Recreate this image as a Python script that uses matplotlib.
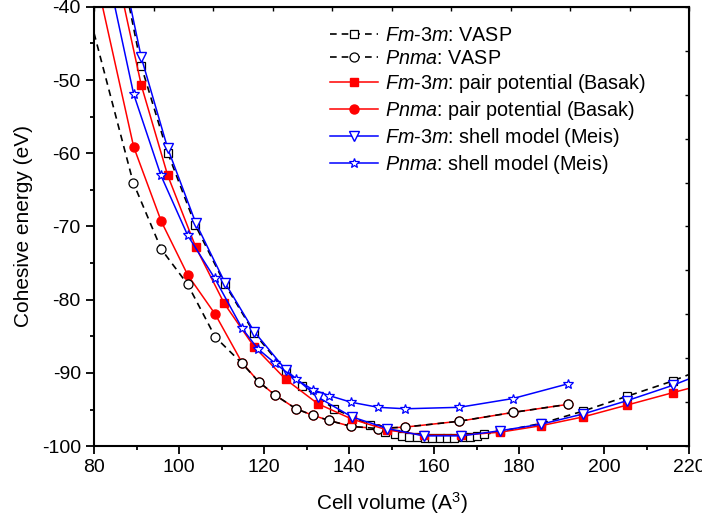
import matplotlib
matplotlib.use('Agg')
from matplotlib import pyplot as plt
from matplotlib import font_manager

plt.rcParams['font.family'] = ['Liberation Sans', 'DejaVu Sans']
plt.rcParams['mathtext.fontset'] = 'custom'
plt.rcParams['mathtext.rm'] = 'Liberation Sans'
plt.rcParams['mathtext.it'] = 'Liberation Sans:italic'
plt.rcParams['axes.unicode_minus'] = False

# first/last entries are where each curve leaves the frame (no marker there)
fm_vasp_v = [88.3, 91.1, 97.3, 103.8, 110.8, 117.7, 125.1, 128.9, 136.5, 144.8,
             148.5, 150.8, 152.4, 154.0, 155.9, 157.9, 159.5, 161.3, 163.0, 164.6,
             166.7, 168.3, 170.0, 171.8, 175.5, 185.2, 195.1, 205.3, 216.1, 220.0]
fm_vasp_e = [-40.0, -48.1, -59.9, -69.8, -77.9, -84.6, -89.8, -91.8, -94.9, -97.1,
             -98.1, -98.4, -98.6, -98.7, -98.8, -98.9, -98.9, -98.9, -98.9, -98.9,
             -98.8, -98.7, -98.6, -98.4, -98.0, -96.9, -95.2, -93.2, -91.1, -90.2]

pn_vasp_v = [80.0, 89.2, 95.8, 102.0, 108.5, 114.8, 118.7, 122.5, 127.5, 131.5,
             135.3, 140.4, 146.7, 153.2, 165.9, 178.5, 191.4]
pn_vasp_e = [-43.6, -64.0, -73.1, -77.9, -85.1, -88.7, -91.2, -93.0, -94.9, -95.8,
             -96.5, -97.3, -97.6, -97.4, -96.6, -95.4, -94.3]

fm_pair_v = [87.1, 91.1, 97.3, 103.9, 110.6, 117.6, 125.1, 132.6, 140.6, 149.0,
             157.5, 166.4, 175.5, 185.2, 195.1, 205.3, 216.1, 220.0]
fm_pair_e = [-40.0, -50.7, -63.0, -72.8, -80.5, -86.4, -90.9, -94.2, -96.3, -97.8,
             -98.5, -98.5, -98.1, -97.2, -96.0, -94.4, -92.7, -92.1]

pn_pair_v = [82.0, 89.3, 95.8, 102.0, 108.5, 114.8, 118.7, 122.5, 127.5, 131.5,
             135.3, 140.4, 146.7, 153.2, 165.9, 178.5, 191.4]
pn_pair_e = [-40.0, -59.1, -69.3, -76.6, -82.0, -88.6, -91.2, -93.0, -94.9, -95.8,
             -96.5, -97.3, -97.6, -97.4, -96.6, -95.4, -94.3]

fm_shell_v = [88.6, 91.1, 97.3, 103.9, 110.8, 117.7, 125.1, 132.6, 140.6, 149.0,
              157.5, 166.4, 175.5, 185.2, 195.1, 205.3, 216.1, 220.0]
fm_shell_e = [-40.0, -46.9, -59.3, -69.5, -77.7, -84.4, -89.6, -93.3, -96.0, -97.6,
              -98.6, -98.6, -97.9, -97.0, -95.6, -93.8, -91.7, -90.8]

pn_shell_v = [84.9, 89.3, 95.7, 102.0, 108.4, 114.8, 118.5, 122.6, 127.5, 131.5,
              135.3, 140.4, 146.8, 153.2, 165.9, 178.5, 191.4]
pn_shell_e = [-40.0, -51.9, -63.0, -71.2, -77.1, -83.9, -86.7, -88.7, -90.9, -92.3,
              -93.1, -94.0, -94.7, -94.9, -94.7, -93.5, -91.5]

labels = [r'$\mathit{Fm}$-$\mathit{3m}$: VASP',
          r'$\mathit{Pnma}$: VASP',
          r'$\mathit{Fm}$-$\mathit{3m}$: pair potential (Basak)',
          r'$\mathit{Pnma}$: pair potential (Basak)',
          r'$\mathit{Fm}$-$\mathit{3m}$: shell model (Meis)',
          r'$\mathit{Pnma}$: shell model (Meis)']

fig = plt.figure(figsize=(7.02, 5.23), dpi=100)
ax = fig.add_axes([0.134, 0.147, 0.848, 0.840])

dash = (0, (4, 3))
ax.plot(fm_vasp_v, fm_vasp_e, color='black', ls=dash, lw=1.2, marker='s', ms=5.5,
        mfc='white', mec='black', mew=0.9, markevery=slice(1, len(fm_vasp_v) - 1),
        label=labels[0])
ax.plot(pn_vasp_v, pn_vasp_e, color='black', ls=dash, lw=1.2, marker='o', ms=6.5,
        mfc='white', mec='black', mew=0.9, markevery=slice(1, None), label=labels[1])
ax.plot(fm_pair_v, fm_pair_e, color='red', lw=1.1, marker='s', ms=6,
        mfc='red', mec='red', markevery=slice(1, len(fm_pair_v) - 1), label=labels[2])
ax.plot(pn_pair_v, pn_pair_e, color='red', lw=1.1, marker='o', ms=6.5,
        mfc='red', mec='red', markevery=slice(1, None), label=labels[3], zorder=1.9)
ax.plot(fm_shell_v, fm_shell_e, color='blue', lw=1.1, marker='v', ms=7,
        mfc='white', mec='blue', mew=1.0, markevery=slice(1, len(fm_shell_v) - 1),
        label=labels[4])
ax.plot(pn_shell_v, pn_shell_e, color='blue', lw=1.1, marker='*', ms=7.5,
        mfc='white', mec='blue', mew=0.9, markevery=slice(1, None), label=labels[5])

ax.set_xlim(80, 220)
ax.set_ylim(-100, -40)
ax.set_xticks(range(80, 221, 20))
ax.set_xticks(range(90, 220, 20), minor=True)
ax.set_yticks(range(-100, -39, 10))
ax.set_yticks(range(-95, -40, 10), minor=True)
ax.tick_params(which='major', direction='out', length=6, width=1.3, labelsize=14)
ax.tick_params(which='minor', direction='out', length=3, width=1.3)

# narrow face for tick labels, like the original
names = {f.name for f in font_manager.fontManager.ttflist}
tick_family = ['Liberation Sans Narrow'] if 'Liberation Sans Narrow' in names else ['Liberation Sans']
for lab in ax.get_xticklabels() + ax.get_yticklabels():
    lab.set_family(tick_family)
for sp in ax.spines.values():
    sp.set_linewidth(1.5)

top = ax.secondary_xaxis('top', functions=(lambda x: (x - 80) / 14.0, lambda t: 80 + 14.0 * t))
top.set_xticks(range(0, 11))
top.tick_params(direction='in', length=3, width=1.0, labeltop=False)
right = ax.secondary_yaxis('right', functions=(lambda y: (y + 100) / 6.0, lambda t: -100 + 6.0 * t))
right.set_yticks(range(0, 11))
right.tick_params(direction='in', length=3, width=1.0, labelright=False)

ax.set_xlabel('Cell volume (A$^3$)', fontsize=15, labelpad=10)
ax.set_ylabel('Cohesive energy (eV)', fontsize=15, labelpad=6)

ax.legend(loc='upper left', bbox_to_anchor=(0.470, 0.950), bbox_transform=fig.transFigure,
          frameon=False, fontsize=14.2, handlelength=2.45, handletextpad=0.35,
          labelspacing=0.2, borderpad=0, borderaxespad=0)

plt.savefig('out.png', dpi=100)
